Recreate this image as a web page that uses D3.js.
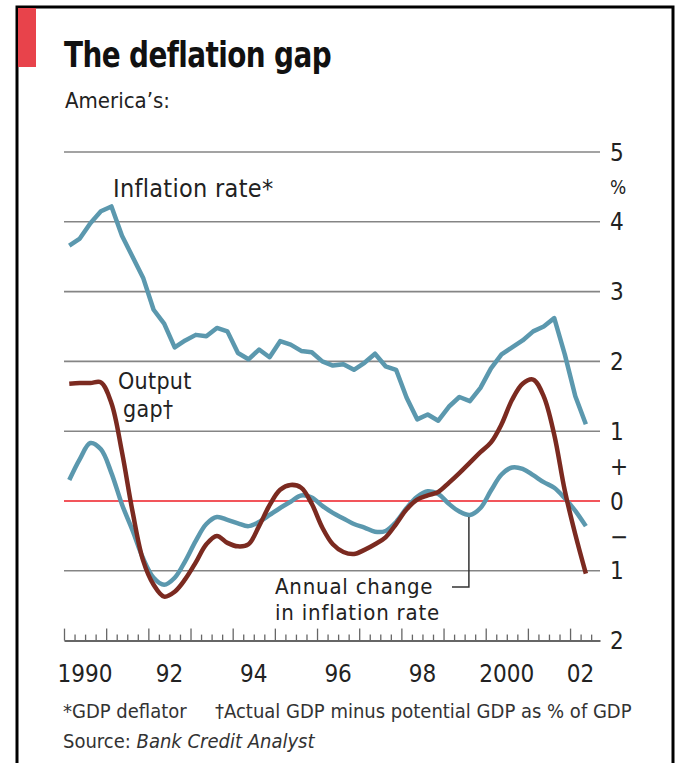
<!DOCTYPE html>
<html>
<head>
<meta charset="utf-8">
<script src="https://cdn.jsdelivr.net/npm/d3@7"></script>
<style>
  body { margin: 0; background: #fff; }
  svg { display: block; font-family: "DejaVu Sans Condensed", "DejaVu Sans", sans-serif; }
</style>
</head>
<body>
<div id="chart"></div>
<script>
// quarterly, 1990 Q1 to 2002 Q2
const startYear = 1990;
const inflationRate = [
  3.66, 3.76, 3.98, 4.15, 4.22, 3.80, 3.50, 3.20, 2.74, 2.54,
  2.20, 2.30, 2.38, 2.36, 2.48, 2.43, 2.12, 2.03, 2.17, 2.06,
  2.29, 2.24, 2.15, 2.13, 2.00, 1.94, 1.96, 1.88, 1.98, 2.11,
  1.93, 1.88, 1.48, 1.17, 1.24, 1.15, 1.35, 1.49, 1.43, 1.62,
  1.90, 2.10, 2.20, 2.30, 2.43, 2.50, 2.62, 2.10, 1.50, 1.10
];
const inflationChange = [
  0.30, 0.60, 0.83, 0.74, 0.40, -0.05, -0.42, -0.82, -1.10, -1.20,
  -1.10, -0.86, -0.57, -0.33, -0.23, -0.27, -0.32, -0.36, -0.30, -0.20,
  -0.10, -0.01, 0.08, 0.05, -0.07, -0.17, -0.25, -0.33, -0.38, -0.44,
  -0.43, -0.30, -0.10, 0.06, 0.14, 0.10, -0.04, -0.15, -0.20, -0.10,
  0.15, 0.38, 0.48, 0.46, 0.37, 0.27, 0.19, 0.04, -0.14, -0.36
];
const outputGap = [
  1.68, 1.69, 1.69, 1.70, 1.40, 0.70, -0.15, -0.85, -1.20, -1.37,
  -1.30, -1.12, -0.88, -0.62, -0.50, -0.60, -0.65, -0.62, -0.36, -0.06,
  0.16, 0.23, 0.19, -0.04, -0.38, -0.62, -0.73, -0.76, -0.70, -0.62,
  -0.52, -0.33, -0.12, 0.02, 0.08, 0.13, 0.26, 0.40, 0.55, 0.70,
  0.84, 1.10, 1.45, 1.68, 1.74, 1.50, 0.95, 0.15, -0.48, -1.04
];
const yTicks = [5, 4, 3, 2, 1, -1];
const yLabels = [
  { v: 5, t: '5' }, { v: 4.5, t: '%' }, { v: 4, t: '4' }, { v: 3, t: '3' },
  { v: 2, t: '2' }, { v: 1, t: '1' }, { v: 0.5, t: '+' }, { v: 0, t: '0' },
  { v: -0.5, t: '\u2212' }, { v: -1, t: '1' }, { v: -2, t: '2' }
];
const xLabels = ['1990', '92', '94', '96', '98', '2000', '02'];
const xLabelYears = [1990, 1992, 1994, 1996, 1998, 2000, 2002];

document.addEventListener('DOMContentLoaded', function () {
  const W = 675, H = 763;
  const blue = '#5b98ae', brown = '#7b2a20', grid = '#858585';

  const svg = d3.select('#chart')
    .append('svg')
    .attr('width', W)
    .attr('height', H);

  // frame and red tab
  svg.append('path')
    .attr('d', 'M17,' + H + 'V7H673V' + H)
    .attr('fill', 'none')
    .attr('stroke', '#000')
    .attr('stroke-width', 3);
  svg.append('rect')
    .attr('x', 18).attr('y', 8)
    .attr('width', 18).attr('height', 59)
    .attr('fill', '#e8434b');

  // title, stretched a little to get the tall narrow look
  svg.append('text')
    .attr('transform', 'translate(64,67) scale(1,1.12)')
    .attr('font-size', 31).attr('font-weight', 'bold')
    .attr('letter-spacing', -0.6)
    .attr('fill', '#111')
    .text('The deflation gap');
  svg.append('text')
    .attr('x', 65).attr('y', 108)
    .attr('font-size', 22)
    .attr('fill', '#222')
    .text('America\u2019s:');

  const x = d3.scaleLinear().domain([1990, 2002.71]).range([64, 600]);
  const y = d3.scaleLinear().domain([-2, 5]).range([640.6, 152]);
  const t = i => startYear + i / 4 + 0.125;

  // gridlines
  svg.append('g')
    .selectAll('line')
    .data(yTicks)
    .join('line')
    .attr('x1', 64).attr('x2', 600)
    .attr('y1', d => y(d)).attr('y2', d => y(d))
    .attr('stroke', grid)
    .attr('stroke-width', 1.6);

  // right-hand labels
  svg.append('g')
    .selectAll('text')
    .data(yLabels)
    .join('text')
    .attr('x', 610)
    .attr('y', d => y(d.v))
    .attr('dy', '0.36em')
    .attr('font-size', d => d.t === '%' ? 19 : 24)
    .attr('fill', '#222')
    .text(d => d.t);

  // bottom axis with quarterly ticks
  const xAxis = d3.axisBottom(x)
    .tickValues(d3.range(1990, 2002.75, 0.25))
    .tickSize(-6)
    .tickSizeOuter(0)
    .tickFormat('');
  const ax = svg.append('g')
    .attr('transform', 'translate(0,' + y(-2) + ')')
    .call(xAxis);
  ax.select('.domain').attr('stroke', '#666').attr('stroke-width', 2);
  ax.selectAll('.tick line')
    .attr('stroke', '#666')
    .attr('stroke-width', 1.3)
    .attr('y2', d => Math.abs(d - Math.round(d)) < 1e-6 ? -12 : -6);

  svg.append('g')
    .selectAll('text')
    .data(xLabels)
    .join('text')
    .attr('x', (d, i) => i === xLabels.length - 1 ? x(xLabelYears[i] + 0.25) : x(xLabelYears[i] + 0.5))
    .attr('y', 682)
    .attr('text-anchor', 'middle')
    .attr('font-size', 24)
    .attr('fill', '#222')
    .text(d => d);

  // zero line
  svg.append('line')
    .attr('x1', 64).attr('x2', 600)
    .attr('y1', y(0)).attr('y2', y(0))
    .attr('stroke', '#ee1c25')
    .attr('stroke-width', 1.6);

  const smooth = d3.line()
    .x((d, i) => x(t(i)))
    .y(d => y(d))
    .curve(d3.curveCatmullRom.alpha(0.5));
  const jagged = d3.line()
    .x((d, i) => x(t(i)))
    .y(d => y(d));

  svg.append('path')
    .datum(inflationChange)
    .attr('fill', 'none')
    .attr('stroke', blue)
    .attr('stroke-width', 4.5)
    .attr('stroke-linejoin', 'round')
    .attr('d', smooth);

  svg.append('path')
    .datum(inflationRate)
    .attr('fill', 'none')
    .attr('stroke', blue)
    .attr('stroke-width', 4.5)
    .attr('stroke-linejoin', 'round')
    .attr('d', jagged);

  svg.append('path')
    .datum(outputGap)
    .attr('fill', 'none')
    .attr('stroke', brown)
    .attr('stroke-width', 4.5)
    .attr('stroke-linejoin', 'round')
    .attr('d', smooth);

  // labels
  const label = (tx, ty, s, fs, ls) => svg.append('text')
    .attr('x', tx).attr('y', ty)
    .attr('font-size', fs)
    .attr('letter-spacing', ls)
    .attr('fill', '#222')
    .text(s);
  label(113, 197, 'Inflation rate*', 25, 0.3);
  label(118, 389, 'Output', 23, 0.3);
  label(123, 417, 'gap\u2020', 23, 0.3);
  label(275, 594, 'Annual change', 22, 0.8);
  label(275, 620, 'in inflation rate', 22, 0.8);

  // leader from the 1999 dip to the label
  const lx = x(t(38)) - 1;
  svg.append('path')
    .attr('d', 'M' + lx + ',' + (y(inflationChange[38]) + 2) + 'V587H452')
    .attr('fill', 'none')
    .attr('stroke', '#333')
    .attr('stroke-width', 1.5);

  // footnotes
  svg.append('text')
    .attr('x', 63).attr('y', 718)
    .attr('font-size', 20)
    .attr('fill', '#333')
    .text('*GDP deflator');
  svg.append('text')
    .attr('x', 215).attr('y', 718)
    .attr('font-size', 20)
    .attr('fill', '#333')
    .text('\u2020Actual GDP minus potential GDP as % of GDP');
  const src = svg.append('text')
    .attr('x', 63).attr('y', 748)
    .attr('font-size', 20)
    .attr('fill', '#333');
  src.append('tspan').text('Source: ');
  src.append('tspan').attr('font-style', 'italic').text('Bank Credit Analyst');
});
</script>
</body>
</html>
